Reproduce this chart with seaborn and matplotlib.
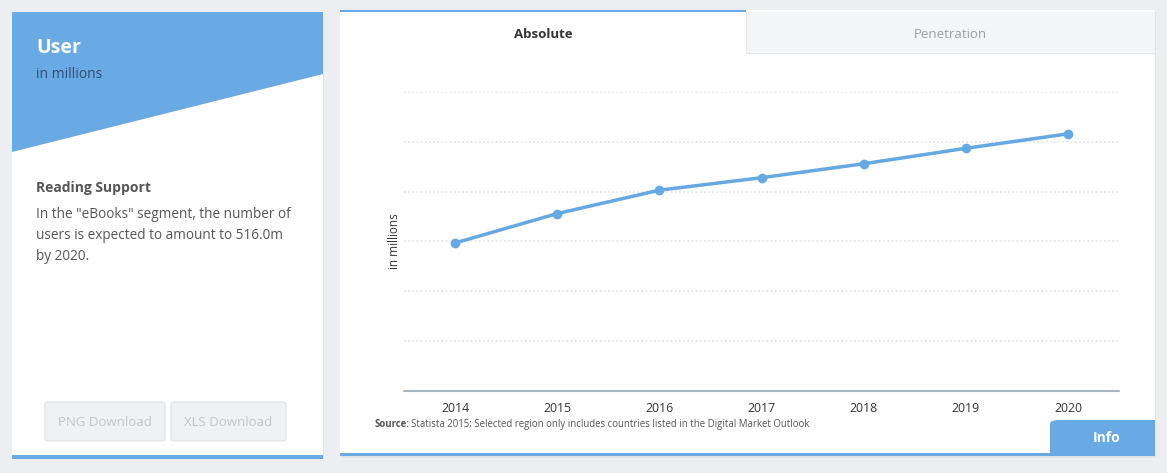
import matplotlib
matplotlib.use("Agg")
import matplotlib.pyplot as plt
from matplotlib.patches import Rectangle, Polygon, FancyBboxPatch
import seaborn as sns
import pandas as pd

years = [2014, 2015, 2016, 2017, 2018, 2019, 2020]
users = [297, 356, 403, 428, 456, 487, 516]
grid_values = [100, 200, 300, 400, 500, 600]

W, H = 1167, 473
BLUE = "#6aaae4"
BG = "#eceef1"

sns.set_theme(style="white")
plt.rcParams["font.family"] = ["Open Sans", "DejaVu Sans"]

fig = plt.figure(figsize=(W / 100, H / 100), dpi=100)
fig.patch.set_facecolor(BG)


def fx(x):
    return x / W


def fy(y):
    return 1 - y / H


def rect(x0, y0, x1, y1, **kw):
    fig.add_artist(Rectangle((fx(x0), fy(y1)), fx(x1) - fx(x0), fy(y0) - fy(y1),
                             transform=fig.transFigure, zorder=0, **kw))


def text(x, y, s, **kw):
    fig.text(fx(x), fy(y), s, **kw)


# ---------- left card ----------
rect(13, 14, 324, 459, facecolor="#dfe2e6", edgecolor="none")  # shadow
rect(12, 12, 323, 457, facecolor="white", edgecolor="none")
fig.add_artist(Polygon([(fx(12), fy(12)), (fx(323), fy(12)), (fx(323), fy(74)),
                        (fx(12), fy(152))], closed=True, transform=fig.transFigure,
                       facecolor=BLUE, edgecolor="none", zorder=0))
rect(12, 455, 323, 459, facecolor=BLUE, edgecolor="none")
text(36, 48, "User", color="white", fontsize=14, fontweight="bold", va="center")
text(36, 75, "in millions", color="#2d4d73", fontsize=10, va="center")
text(36, 188, "Reading Support", color="#555555", fontsize=10, fontweight="bold", va="center")
body = ['In the "eBooks" segment, the number of',
        "users is expected to amount to 516.0m",
        "by 2020."]
for i, line in enumerate(body):
    text(36, 214 + 21 * i, line, color="#555555", fontsize=9.8, va="center")

for (x0, x1, lab) in [(45, 165, "PNG Download"), (171, 286, "XLS Download")]:
    fig.add_artist(FancyBboxPatch((fx(x0), fy(441)), fx(x1) - fx(x0), fy(402) - fy(441),
                                  boxstyle="round,pad=0,rounding_size=0.004",
                                  transform=fig.transFigure, facecolor="#f0f1f3",
                                  edgecolor="#e2e4e7", linewidth=1, zorder=0))
    text((x0 + x1) / 2, 422, lab, color="#c3c6ca", fontsize=9.5, ha="center", va="center")

# ---------- right card ----------
rect(341, 12, 1156, 458, facecolor="#dfe2e6", edgecolor="none")
rect(340, 10, 1155, 456, facecolor="white", edgecolor="none")
rect(746, 12, 1155, 54, facecolor="#f4f5f7", edgecolor="none")
rect(746, 53, 1155, 54.5, facecolor="#e3e5e8", edgecolor="none")
rect(746, 12, 747, 54, facecolor="#e6e8eb", edgecolor="none")
rect(340, 10, 746, 12.5, facecolor=BLUE, edgecolor="none")
rect(340, 453, 1155, 456, facecolor=BLUE, edgecolor="none")
text(543, 34, "Absolute", color="#333333", fontsize=9.5, fontweight="bold", ha="center", va="center")
text(950, 34, "Penetration", color="#9a9ea3", fontsize=9.5, ha="center", va="center")

fig.add_artist(FancyBboxPatch((fx(1050), fy(456)), fx(1155) - fx(1050), fy(420) - fy(456),
                              boxstyle="round,pad=0,rounding_size=0.008",
                              transform=fig.transFigure, facecolor=BLUE, edgecolor="none", zorder=0))
rect(1050, 440, 1155, 456, facecolor=BLUE, edgecolor="none")
rect(1140, 420, 1155, 440, facecolor=BLUE, edgecolor="none")
text(1107, 438, "Info", color="white", fontsize=10, fontweight="bold", ha="center", va="center")

# ---------- chart ----------
ax = fig.add_axes([fx(404), fy(391), fx(1119) - fx(404), fy(92) - fy(391)])
ax.set_zorder(5)
ax.set_facecolor("none")
df = pd.DataFrame({"year": years, "users": users})
sns.lineplot(data=df, x="year", y="users", ax=ax, color="#66a8e2", linewidth=2.5,
             marker="o", markersize=7, markeredgewidth=0, zorder=5)
for g in grid_values:
    ax.axhline(g, color="#e2e4e6", linewidth=1.2, linestyle=(0, (1, 1.5)), zorder=1)
ax.axhline(0, color="#a9b4bd", linewidth=1.5, zorder=2, clip_on=False)
ax.set_xlim(2013.5, 2020.5)
ax.set_ylim(0, 600)
ax.set_xticks(years)
ax.set_xticklabels([str(y) for y in years], fontsize=8.8, color="#333333")
ax.tick_params(axis="x", length=0, pad=8)
ax.set_yticks([])
ax.set_xlabel("")
ax.set_ylabel("in millions", fontsize=8.5, color="#333333", labelpad=2)
for s in ax.spines.values():
    s.set_visible(False)

fig.text(fx(375), fy(424), "Source:", fontsize=6.9, fontweight="bold", color="#555555", va="center")
fig.text(fx(411), fy(424), "Statista 2015; Selected region only includes countries listed in the Digital Market Outlook",
         fontsize=6.9, color="#555555", va="center")

fig.savefig("out.png", dpi=100, facecolor=BG)
